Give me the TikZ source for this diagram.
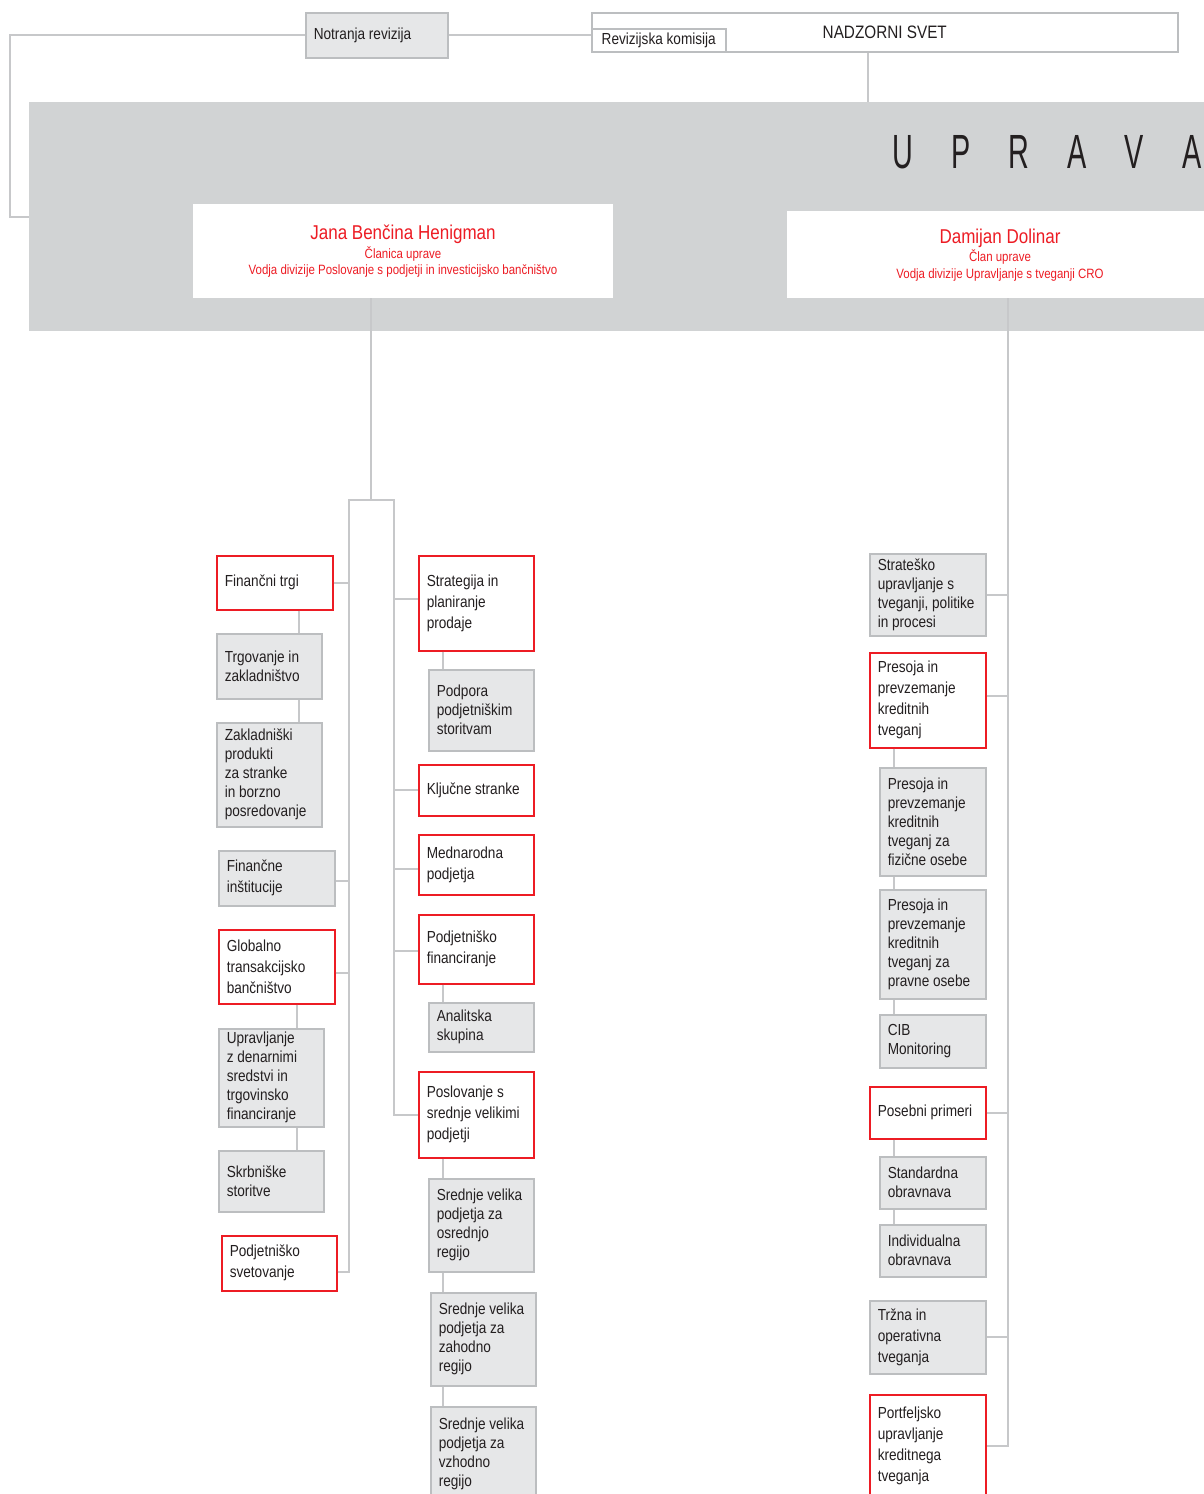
\documentclass[tikz,border=0pt]{standalone}
\usepackage{fontspec}
\setmainfont{Liberation Sans}[FakeStretch=0.85]
\newfontfamily\uprfont{Liberation Sans}[FakeStretch=0.6]
\usetikzlibrary{calc}
\hyphenpenalty=10000
\exhyphenpenalty=10000
\definecolor{bandgray}{RGB}{209,211,212}
\definecolor{boxgray}{RGB}{230,231,232}
\definecolor{edgegray}{RGB}{188,190,192}
\definecolor{linegray}{RGB}{199,200,202}
\definecolor{ered}{RGB}{237,28,36}
\definecolor{txt}{RGB}{35,31,32}
\tikzset{
  base/.style={anchor=north west, inner xsep=8pt, inner ysep=0pt, align=flush left, text=txt, line width=1.5pt},
  gbox/.style={base, fill=boxgray, draw=edgegray, font=\fontsize{16}{19}\selectfont},
  rbox/.style={base, fill=white, draw=ered, font=\fontsize{16}{21}\selectfont},
  wide/.style={font=\fontsize{16}{21}\selectfont},
  conn/.style={draw=linegray, line width=1.8pt},
  rname/.style={text=ered, inner sep=0pt, font=\fontsize{20}{24}\selectfont},
  rsub/.style={text=ered, inner sep=0pt, font=\fontsize{13.5}{16}\selectfont},
  letter/.style={text=txt, inner sep=0pt, font=\uprfont\fontsize{48}{48}\selectfont},
}
\newcommand\obox[7]{\pgfmathsetmacro\obw{#5-16}\node[#1, minimum width=#5pt, minimum height=#6pt, text width=\obw pt] (#2) at (#3,#4) {#7};}
\begin{document}
\begin{tikzpicture}[x=1pt,y=-1pt]
\useasboundingbox (0,0) rectangle (1204,1494);
\fill[white] (0,0) rectangle (1204,1494);

% band
\node[anchor=north west, fill=bandgray, minimum width=1200pt, minimum height=229pt, inner sep=0pt] (band) at (29,102) {};
\foreach \i/\x/\l in {1/903/U,2/961/P,3/1019/R,4/1077/A,5/1134/V,6/1192/A}
  \node[letter] (u\i) at (\x,152) {\l};

% top
\obox{gbox}{nr}{305}{12}{142}{45}{\mbox{Notranja revizija}}
\node[anchor=north west, draw=edgegray, line width=1.5pt, fill=white, minimum width=586pt, minimum height=39pt, inner sep=0pt, font=\fontsize{18}{22}\selectfont, text=txt] (ns) at (591,12) {NADZORNI SVET};
\node[anchor=north west, draw=edgegray, line width=1.5pt, fill=white, minimum width=134pt, minimum height=23pt, inner sep=0pt, font=\fontsize{16}{19}\selectfont, text=txt] (rk) at (591,28) {Revizijska komisija};

% board members
\node[anchor=north west, fill=white, minimum width=420pt, minimum height=94pt, inner sep=0pt] (jana) at (193,204) {};
\node[rname] (janaN) at (403,234) {Jana Benčina Henigman};
\node[rsub] (janaR) at (403,254) {Članica uprave};
\node[rsub] (janaD) at (403,271) {Vodja divizije Poslovanje s podjetji in investicijsko bančništvo};
\node[anchor=north west, fill=white, minimum width=426pt, minimum height=87pt, inner sep=0pt] (dam) at (787,211) {};
\node[rname] (damN) at (1000,238) {Damijan Dolinar};
\node[rsub] (damR) at (1000,257) {Član uprave};
\node[rsub] (damD) at (1000,275) {Vodja divizije Upravljanje s tveganji CRO};

% left column
\obox{rbox}{fin}{216}{555}{116}{54}{\mbox{Finančni trgi}}
\obox{gbox}{trg}{216}{633}{105}{65}{\mbox{Trgovanje in}\\zakladništvo}
\obox{gbox}{zak}{216}{722}{105}{104}{Zakladniški\\produkti\\\mbox{za stranke}\\\mbox{in borzno}\\posredovanje}
\obox{gbox,wide}{fi}{218}{850}{116}{55}{Finančne\\inštitucije}
\obox{rbox}{gtb}{218}{929}{116}{74}{Globalno\\transakcijsko\\bančništvo}
\obox{gbox}{upd}{218}{1028}{105}{98}{Upravljanje\\\mbox{z denarnimi}\\\mbox{sredstvi in}\\trgovinsko\\financiranje}
\obox{gbox}{skr}{218}{1150}{105}{61}{Skrbniške\\storitve}
\obox{rbox}{psv}{221}{1235}{115}{55}{Podjetniško\\svetovanje}

% middle column
\obox{rbox}{str}{418}{555}{115}{95}{\mbox{Strategija in}\\planiranje\\prodaje}
\obox{gbox}{pod}{428}{669}{105}{81}{Podpora\\podjetniškim\\storitvam}
\obox{rbox}{klj}{418}{764}{115}{51}{\mbox{Ključne stranke}}
\obox{rbox}{med}{418}{834}{115}{60}{Mednarodna\\podjetja}
\obox{rbox}{pfin}{418}{914}{115}{69}{Podjetniško\\financiranje}
\obox{gbox}{ana}{428}{1002}{105}{49}{Analitska\\skupina}
\obox{rbox}{psvp}{418}{1071}{115}{86}{\mbox{Poslovanje s}\\\mbox{srednje velikimi}\\podjetji}
\obox{gbox}{sva}{428}{1178}{105}{93}{\mbox{Srednje velika}\\\mbox{podjetja za}\\osrednjo\\regijo}
\obox{gbox}{svb}{430}{1292}{105}{93}{\mbox{Srednje velika}\\\mbox{podjetja za}\\zahodno\\regijo}
\obox{gbox}{svc}{430}{1406}{105}{94}{\mbox{Srednje velika}\\\mbox{podjetja za}\\vzhodno\\regijo}

% right column
\obox{gbox}{stu}{869}{553}{116}{82}{Strateško\\\mbox{upravljanje s}\\\mbox{tveganji, politike}\\\mbox{in procesi}}
\obox{rbox}{pkt}{869}{652}{116}{95}{\mbox{Presoja in}\\prevzemanje\\kreditnih\\tveganj}
\obox{gbox}{pfo}{879}{767}{106}{108}{\mbox{Presoja in}\\prevzemanje\\kreditnih\\\mbox{tveganj za}\\\mbox{fizične osebe}}
\obox{gbox}{ppo}{879}{889}{106}{109}{\mbox{Presoja in}\\prevzemanje\\kreditnih\\\mbox{tveganj za}\\\mbox{pravne osebe}}
\obox{gbox}{cib}{879}{1014}{106}{53}{CIB\\Monitoring}
\obox{rbox}{pos}{869}{1086}{116}{52}{\mbox{Posebni primeri}}
\obox{gbox}{std}{879}{1156}{106}{52}{Standardna\\obravnava}
\obox{gbox}{ind}{879}{1224}{106}{52}{Individualna\\obravnava}
\obox{gbox,wide}{trz}{869}{1300}{116}{73}{\mbox{Tržna in}\\operativna\\tveganja}
\obox{rbox}{port}{869}{1394}{116}{102}{Portfeljsko\\upravljanje\\kreditnega\\tveganja}

% helper coordinates
\coordinate (lc) at (10,217);
\coordinate (jM) at (371,500);
\coordinate (jL) at (349,500);
\coordinate (jR) at (394,500);
\coordinate (rs) at (1008,0);
\coordinate (vl1) at (299,0);
\coordinate (vl2) at (297,0);
\coordinate (vr1) at (443,0);
\coordinate (vr2) at (894,0);
\coordinate (nsd) at ([xshift=-17pt]ns.south);

% connectors top
\draw[conn] (nr.west) -| (lc) -- (lc -| band.west);
\draw[conn] (nr.east) -- (nr.east -| ns.west);
\draw[conn] (nsd) -- (nsd |- band.north);

% Jana spine
\draw[conn] (jana.south -| jM) -- (jM);
\draw[conn] ([yshift=-8.5pt]psv.east) -| (jL) -- (jR) |- (psvp.west);
\draw[conn] (fin.east) -- (fin.east -| jL);
\draw[conn] ([yshift=-2.5pt]fi.east) -- ([yshift=-2.5pt]fi.east -| jL);
\draw[conn] ([yshift=-6pt]gtb.east) -- ([yshift=-6pt]gtb.east -| jL);
\draw[conn] ([yshift=4.5pt]str.west) -- ([yshift=4.5pt]str.west -| jR);
\draw[conn] (klj.west) -- (klj.west -| jR);
\draw[conn] ([yshift=-4pt]med.west) -- ([yshift=-4pt]med.west -| jR);
\draw[conn] ([yshift=-1.5pt]pfin.west) -- ([yshift=-1.5pt]pfin.west -| jR);

\draw[conn] (fin.south -| vl1) -- (trg.north -| vl1);
\draw[conn] (trg.south -| vl1) -- (zak.north -| vl1);
\draw[conn] (gtb.south -| vl2) -- (upd.north -| vl2);
\draw[conn] (upd.south -| vl2) -- (skr.north -| vl2);
\draw[conn] (str.south -| vr1) -- (pod.north -| vr1);
\draw[conn] (pfin.south -| vr1) -- (ana.north -| vr1);
\draw[conn] (psvp.south -| vr1) -- (sva.north -| vr1);
\draw[conn] (sva.south -| vr1) -- (svb.north -| vr1);
\draw[conn] (svb.south -| vr1) -- (svc.north -| vr1);

% Damijan spine
\draw[conn] (dam.south -| rs) |- (port.east);
\draw[conn] (stu.east) -- (stu.east -| rs);
\draw[conn] ([yshift=4.5pt]pkt.east) -- ([yshift=4.5pt]pkt.east -| rs);
\draw[conn] (pos.east) -- (pos.east -| rs);
\draw[conn] (trz.east) -- (trz.east -| rs);
\draw[conn] (pkt.south -| vr2) -- (pfo.north -| vr2);
\draw[conn] (pfo.south -| vr2) -- (ppo.north -| vr2);
\draw[conn] (ppo.south -| vr2) -- (cib.north -| vr2);
\draw[conn] (pos.south -| vr2) -- (std.north -| vr2);
\draw[conn] (std.south -| vr2) -- (ind.north -| vr2);
\end{tikzpicture}
\end{document}
